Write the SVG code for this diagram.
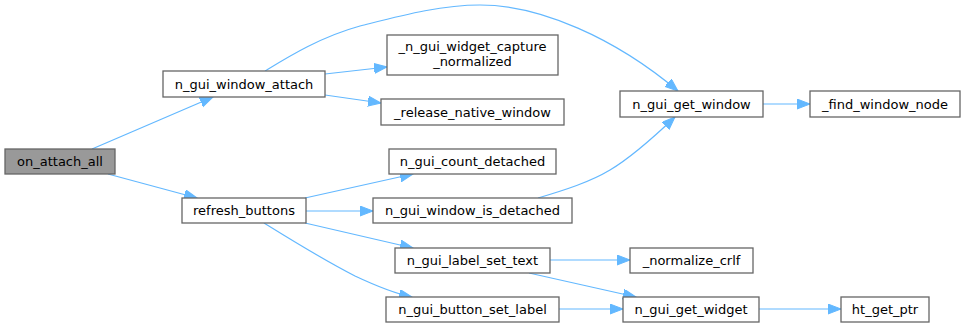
<svg xmlns="http://www.w3.org/2000/svg" width="965" height="328" viewBox="0 0 965 328">
<style>
.n rect{fill:#ffffff;stroke:#666666;stroke-width:1.3}
.n.root rect{fill:#999999}
.n text{font-family:"DejaVu Sans",sans-serif;font-size:13px;text-anchor:middle;fill:#000000}
.e path{fill:none;stroke:#63b8ff;stroke-width:1.2;marker-end:url(#ah)}
</style>
<defs>
<marker id="ah" markerUnits="userSpaceOnUse" markerWidth="14" markerHeight="11" refX="13" refY="5" orient="auto">
<path d="M0,0 L13,5 L0,10 z" fill="#63b8ff" stroke="#63b8ff" stroke-width="1"/>
</marker>
</defs>
<rect width="965" height="328" fill="#ffffff"/>
<g id="edges" class="e">
<path d="M92,149 L213,97"/>
<path d="M108,174 L197,198"/>
<path d="M325,74 L387,67"/>
<path d="M325,95 L381,103"/>
<path d="M265,71 C288,57 320,37 360,26 C400,16 440,5 480,5 C540,5 615,38 678,91"/>
<path d="M538,198 C565,190 590,182 610,170 C632,157 655,136 675,117"/>
<path d="M305,198 L413,174"/>
<path d="M306,211 L373,211"/>
<path d="M305,223 L413,248"/>
<path d="M264,223 C285,236 320,258 355,276 C372,284 392,293 412,297"/>
<path d="M550,260 L630,260"/>
<path d="M529,273 L636,297"/>
<path d="M559,309 L623,309"/>
<path d="M763,104 L810,104"/>
<path d="M759,309 L841,309"/>
</g>
<g id="on_attach_all" class="n root"><rect x="5" y="149" width="110" height="25"/><text x="60" y="166">on_attach_all</text></g>
<g id="n_gui_window_attach" class="n"><rect x="163" y="71" width="162" height="26"/><text x="244" y="88.5">n_gui_window_attach</text></g>
<g id="refresh_buttons" class="n"><rect x="182" y="198" width="124" height="25"/><text x="244" y="215">refresh_buttons</text></g>
<g id="_n_gui_widget_capture_normalized" class="n"><rect x="387" y="35" width="171" height="40"/><text x="472.5" y="51">_n_gui_widget_capture</text><text x="472.5" y="66">_normalized</text></g>
<g id="_release_native_window" class="n"><rect x="381" y="99" width="183" height="26"/><text x="472.5" y="116.5">_release_native_window</text></g>
<g id="n_gui_count_detached" class="n"><rect x="389" y="149" width="167" height="25"/><text x="472.5" y="166">n_gui_count_detached</text></g>
<g id="n_gui_window_is_detached" class="n"><rect x="373" y="198" width="199" height="25"/><text x="472.5" y="215">n_gui_window_is_detached</text></g>
<g id="n_gui_label_set_text" class="n"><rect x="395" y="248" width="155" height="25"/><text x="472.5" y="265">n_gui_label_set_text</text></g>
<g id="n_gui_button_set_label" class="n"><rect x="386" y="297" width="173" height="25"/><text x="472.5" y="314">n_gui_button_set_label</text></g>
<g id="n_gui_get_window" class="n"><rect x="620" y="91" width="143" height="26"/><text x="691.5" y="108.5">n_gui_get_window</text></g>
<g id="_find_window_node" class="n"><rect x="810" y="91" width="150" height="26"/><text x="885" y="108.5">_find_window_node</text></g>
<g id="_normalize_crlf" class="n"><rect x="630" y="248" width="123" height="25"/><text x="691.5" y="265">_normalize_crlf</text></g>
<g id="n_gui_get_widget" class="n"><rect x="623" y="297" width="136" height="25"/><text x="691" y="314">n_gui_get_widget</text></g>
<g id="ht_get_ptr" class="n"><rect x="841" y="297" width="88" height="25"/><text x="885" y="314">ht_get_ptr</text></g>
</svg>
